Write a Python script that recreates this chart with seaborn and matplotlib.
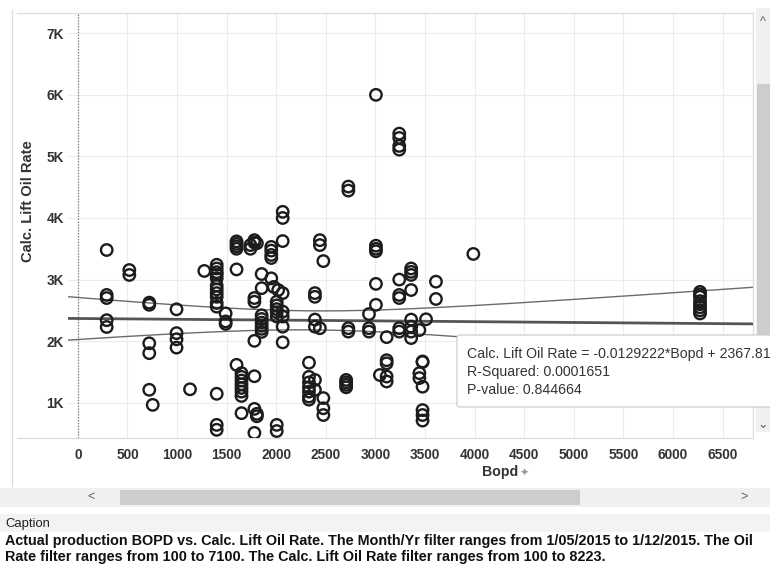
import numpy as np
import pandas as pd
import matplotlib
matplotlib.use("Agg")
import matplotlib.pyplot as plt
import seaborn as sns
from matplotlib.patches import Rectangle, FancyBboxPatch
from matplotlib.lines import Line2D

# ---------------- data ----------------
bopd_groups = [291, 519, 720, 755, 995, 1131, 1275, 1400, 1490, 1600, 1650, 1740,
               1780, 1805, 1853, 1950, 1975, 2005, 2020, 2065, 2330, 2390, 2440,
               2475, 2705, 2727, 2935, 3005, 3045, 3113, 3240, 3360, 3443, 3475,
               3510, 3610, 3987, 6272]
calc_groups = [
    [3480, 2750, 2700, 2340, 2230],
    [3155, 3075],
    [2625, 2590, 1965, 1805, 1210],
    [965],
    [2517, 2130, 2030, 1895],
    [1218],
    [3140],
    [3240, 3180, 3120, 3080, 3020, 2900, 2840, 2780, 2720, 2620, 2560, 1145, 640, 560],
    [2450, 2320, 2280],
    [3620, 3580, 3540, 3500, 3165, 1615],
    [1480, 1420, 1360, 1300, 1240, 1180, 1110, 830],
    [3500, 3560],
    [3640, 3600, 2700, 2640, 2005, 1430, 900, 510],
    [3590, 820, 780],
    [3090, 2860, 2420, 2360, 2300, 2250, 2200, 2150],
    [3530, 3470, 3400, 3350, 3020],
    [2880],
    [2640, 2580, 2520, 2470, 2400, 640, 540],
    [2830],
    [4100, 4000, 3625, 2780, 2480, 2400, 2235, 1980],
    [1650, 1420, 1330, 1250, 1180, 1100, 1050],
    [2780, 2720, 2350, 2235, 1370, 1210],
    [3640, 3560, 2210],
    [3300, 1075, 910, 800],
    [1370, 1330, 1290, 1250],
    [4510, 4445, 2210, 2155],
    [2440, 2210, 2155],
    [6000, 3550, 3500, 3460, 2930, 2590],
    [1450],
    [2065, 1690, 1640, 1425, 1345],
    [5370, 5300, 5170, 5110, 3000, 2750, 2700, 2210, 2155],
    [3180, 3125, 3075, 2830, 2350, 2235, 2155, 2050],
    [2180, 1480, 1400],
    [1670, 1660, 1260, 880, 800, 710],
    [2355],
    [2966, 2685],
    [3416],
    [2800, 2760, 2720, 2650, 2600, 2550, 2500, 2450],
]

# trend line reported in the tooltip
slope = -0.0129222
intercept = 2367.81
r_squared = 0.0001651
p_value = 0.844664

x_ticks = [0, 500, 1000, 1500, 2000, 2500, 3000, 3500, 4000, 4500, 5000, 5500, 6000, 6500]
y_ticks = [1000, 2000, 3000, 4000, 5000, 6000, 7000]
y_tick_labels = ["1K", "2K", "3K", "4K", "5K", "6K", "7K"]

caption = ("Actual production BOPD vs. Calc. Lift Oil Rate. The Month/Yr filter ranges from 1/05/2015 to 1/12/2015. The Oil\n"
           "Rate filter ranges from 100 to 7100. The Calc. Lift Oil Rate filter ranges from 100 to 8223.")

bopd = []
calc = []
for xg, ys in zip(bopd_groups, calc_groups):
    for yv in ys:
        bopd.append(xg)
        calc.append(yv)
df = pd.DataFrame({"Bopd": bopd, "Calc. Lift Oil Rate": calc})

# ---------------- figure ----------------
W, H = 770, 567
fig = plt.figure(figsize=(W / 100, H / 100), dpi=100)
FONT = ["Liberation Sans", "DejaVu Sans"]
plt.rcParams["font.family"] = FONT

def fx(px):
    return px / W

def fy(py):
    return 1 - py / H

ax_l, ax_r, ax_t, ax_b = 68, 753, 13, 438
ax = fig.add_axes([fx(ax_l), fy(ax_b), fx(ax_r - ax_l), (ax_b - ax_t) / H])
ax.set_facecolor("white")

xlim = (-99, 6806)
ylim = (427, 7329)

# regression line and 95% confidence band computed from the points
xs = np.array(bopd, float)
ys = np.array(calc, float)
n = len(xs)
xm = xs.mean()
sxx = ((xs - xm) ** 2).sum()
resid = ys - (intercept + slope * xs)
s = np.sqrt((resid ** 2).sum() / (n - 2))
tval = 1.972
xg = np.linspace(xlim[0], xlim[1], 200)
yfit = intercept + slope * xg
half = tval * s * np.sqrt(1.0 / n + (xg - xm) ** 2 / sxx)
lines_df = pd.DataFrame({"x": xg, "fit": yfit, "up": yfit + half, "lo": yfit - half})

sns.lineplot(data=lines_df, x="x", y="up", ax=ax, color="#6b6b6b", linewidth=1.0, zorder=3)
sns.lineplot(data=lines_df, x="x", y="lo", ax=ax, color="#6b6b6b", linewidth=1.0, zorder=3)
sns.lineplot(data=lines_df, x="x", y="fit", ax=ax, color="#555555", linewidth=2.0, zorder=3)

sns.scatterplot(data=df, x="Bopd", y="Calc. Lift Oil Rate", ax=ax, marker="o",
                facecolors="none", edgecolor="#1c1c1c", linewidth=1.7, s=68, zorder=4)

ax.set_xlim(*xlim)
ax.set_ylim(*ylim)
ax.set_xticks(x_ticks)
ax.set_xticklabels([str(t) for t in x_ticks])
ax.set_yticks(y_ticks)
ax.set_yticklabels(y_tick_labels)
ax.grid(True, color="#ececec", linewidth=0.8, zorder=0)
ax.set_axisbelow(True)
ax.axvline(0, color="#777777", linewidth=0.9, linestyle=(0, (1, 1.3)), zorder=2)
ax.tick_params(axis="both", length=0, labelsize=9.8, labelcolor="#333333")
ax.tick_params(axis="x", pad=7)
ax.tick_params(axis="y", pad=3)
for lab in ax.get_xticklabels() + ax.get_yticklabels():
    lab.set_fontweight("bold")
ax.spines["left"].set_visible(False)
for side in ["top", "bottom", "right"]:
    ax.spines[side].set_color("#dcdcdc")
    ax.spines[side].set_linewidth(0.9)
ax.set_xlabel("")
ax.set_ylabel("")

# frame lines of the view
fig.add_artist(Line2D([fx(17), fx(ax_l)], [fy(ax_t), fy(ax_t)], color="#dcdcdc", lw=0.9))
fig.add_artist(Line2D([fx(17), fx(ax_l)], [fy(ax_b), fy(ax_b)], color="#dcdcdc", lw=0.9))
fig.add_artist(Line2D([fx(12), fx(12)], [fy(10), fy(486)], color="#dcdcdc", lw=0.9))

# axis titles
fig.text(fx(28), fy(201), "Calc. Lift Oil Rate", rotation=90, ha="center", va="center",
         fontsize=10.6, fontweight="bold", color="#333333")
fig.text(fx(500), fy(472), "Bopd", ha="center", va="center",
         fontsize=10.2, fontweight="bold", color="#333333")
fig.text(fx(524), fy(473), "\u2726", ha="center", va="center", fontsize=8, color="#9a9a9a",
         family=["DejaVu Sans"])

# vertical scrollbar
fig.add_artist(Rectangle((fx(756), fy(432)), fx(14), (432 - 8) / H, color="#f0f0f0", lw=0))
fig.add_artist(Rectangle((fx(757), fy(400)), fx(13), (400 - 84) / H, color="#cdcdcd", lw=0))
fig.text(fx(763), fy(22), "^", ha="center", va="center", fontsize=9, color="#606060")
fig.text(fx(763), fy(424), "\u2304", ha="center", va="center", fontsize=9, color="#606060",
         family=["DejaVu Sans"])

# horizontal scrollbar
fig.add_artist(Rectangle((0, fy(507)), 1, (507 - 488) / H, color="#f0f0f0", lw=0))
fig.add_artist(Rectangle((fx(120), fy(505)), fx(460), (505 - 490) / H, color="#cdcdcd", lw=0))
fig.text(fx(91), fy(497), "<", ha="center", va="center", fontsize=9, color="#606060")
fig.text(fx(744), fy(497), ">", ha="center", va="center", fontsize=9, color="#606060")

# caption
fig.add_artist(Rectangle((0, fy(532)), 1, (532 - 514) / H, color="#f3f3f3", lw=0))
fig.text(fx(5), fy(524), "Caption", ha="left", va="center", fontsize=9.4, color="#222222")
fig.text(fx(5), fy(549), caption, ha="left", va="center", fontsize=10.4, fontweight="bold",
         color="#111111", linespacing=1.12)

# tooltip
tip = FancyBboxPatch((fx(457), fy(407)), fx(340), (407 - 335) / H,
                     boxstyle="round,pad=0,rounding_size=0.004", fc="white", ec="#c8c8c8",
                     lw=0.8, transform=fig.transFigure, zorder=10)
fig.add_artist(tip)
tip_text = (f"Calc. Lift Oil Rate = {slope}*Bopd + {intercept}\n"
            f"R-Squared: {r_squared}\n"
            f"P-value: {p_value}")
fig.text(fx(467), fy(372), tip_text, ha="left", va="center", fontsize=10.2,
         color="#333333", linespacing=1.32, zorder=11)

fig.savefig("out.png", dpi=100)
